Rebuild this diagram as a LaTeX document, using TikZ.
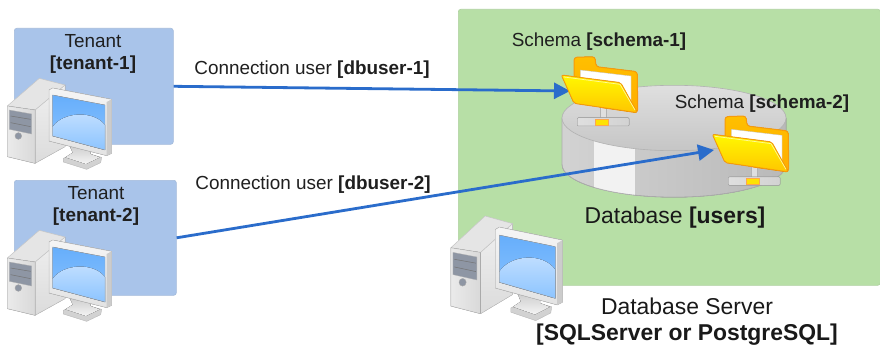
\documentclass[tikz,border=0pt]{standalone}
\usepackage{fontspec}
\setmainfont{Liberation Sans}
\usetikzlibrary{arrows.meta,shapes.geometric}
\definecolor{greenbg}{HTML}{B7DFA6}
\definecolor{bluebg}{HTML}{A9C4EA}
\definecolor{linkblue}{HTML}{2A6CCB}
\definecolor{folderedge}{HTML}{F79A0C}
\definecolor{scrtop}{HTML}{66AEFB}
\definecolor{scrbot}{HTML}{8CC4FF}
\definecolor{scrhi}{HTML}{C4E0FF}
\definecolor{towerpanel}{HTML}{8E96A4}
\tikzset{
  panel/.style={draw=#1!85!gray,line width=.6pt,fill=#1,rounded corners=2.5pt,inner sep=0pt,anchor=north west},
  label/.style={inner sep=0pt,font=\fontsize{18.9}{21}\selectfont,text=black!88},
  labelbold/.style={inner sep=0pt,font=\fontsize{18.9}{21}\selectfont\bfseries,text=black!88},
  biglabel/.style={inner sep=0pt,font=\fontsize{22.9}{25}\selectfont,text=black!90},
  biglabelbold/.style={inner sep=0pt,font=\fontsize{22.9}{25}\selectfont\bfseries,text=black!90},
  link/.style={draw=linkblue,line width=2.8pt,-{Triangle[length=16pt,width=16pt]}},
  pc/.pic={
    \begin{scope}[scale=1/3,line join=round]
      \fill[top color=gray!12,bottom color=gray!28,draw=gray!45,line width=.5pt] (105,300)--(195,225)--(195,410)--(105,460)--cycle;
      \fill[fill=gray!20,draw=gray!45,line width=.5pt] (22,288)--(118,205)--(195,225)--(105,300)--cycle;
      \fill[left color=gray!16,right color=gray!30,draw=gray!50,line width=.5pt] (22,288)--(105,300)--(105,460)--(22,440)--cycle;
      \fill[fill=towerpanel,draw=gray!60,line width=.3pt] (28,300)--(95,312)--(95,372)--(28,358)--cycle;
      \draw[gray!90!black,line width=.5pt] (32,318)--(92,328) (32,338)--(92,350);
      \fill[towerpanel,draw=gray!70] (55,378) circle (10);
      \fill[gray!35,draw=gray!55,line width=.4pt] (190,445)--(238,425)--(305,442)--(302,458)--(260,478)--(190,456)--cycle;
      \fill[top color=gray!40,bottom color=gray!8] (208,405)--(272,420)--(272,432)--(300,442)--(258,462)--(196,442)--(218,428)--cycle;
      \fill[top color=gray!8,bottom color=gray!22,draw=gray!50,line width=.5pt] (147,240)--(158,234)--(335,268)--(335,430)--(320,437)--(147,393)--cycle;
      \fill[fill=gray!40] (320,276)--(335,268)--(335,430)--(320,437)--cycle;
      \begin{scope}
        \clip (158,255)--(315,285)--(315,420)--(158,378)--cycle;
        \fill[top color=scrtop,bottom color=scrbot] (158,255) rectangle (315,420);
        \fill[top color=scrhi,bottom color=scrbot] (158,350) .. controls (190,305) and (280,300) .. (315,345)--(315,420)--(158,378)--cycle;
      \end{scope}
      \draw[gray!70,line width=.4pt] (158,255)--(315,285)--(315,420)--(158,378)--cycle;
    \end{scope}
  },
  folderpic/.pic={
    \begin{scope}[scale=1/3,line join=round]
      \fill[gray!25,draw=gray!60,line width=.4pt] (300,262) rectangle (320,295);
      \fill[left color=gray!25,right color=gray!35,draw=gray!65,line width=.5pt,rounded corners=1pt] (232,293) rectangle (387,318);
      \fill[yellow!85!orange,draw=orange!70,line width=.3pt] (285,297) rectangle (325,316);
      \fill[top color=orange!50!yellow,bottom color=orange!65!yellow,draw=folderedge,line width=1pt,rounded corners=3pt]
        (222,190)--(222,112)--(285,110)--(288,140)--(412,155)--(413,278)--(300,262)--cycle;
      \fill[white,draw=gray!50,line width=.3pt] (241,150)--(393,168)--(393,250)--(241,230)--cycle;
      \fill[top color=yellow!95!orange,bottom color=orange!45!yellow,draw=folderedge,line width=.9pt,rounded corners=2pt]
        (184,165)--(362,188)--(412,278)--(222,250)--cycle;
      \draw[white!60!yellow,line width=.7pt] (192,171)--(360,193)--(405,270);
    \end{scope}
  }
}
\begin{document}
\begin{tikzpicture}[x=1pt,y=-1pt]
  \useasboundingbox (0,0) rectangle (880,345);
  \fill[white] (0,0) rectangle (880,345);
  \node[panel=greenbg,draw=greenbg!85!gray,minimum width=422pt,minimum height=276pt] (server) at (458,9) {};
  \node[panel=bluebg,minimum width=159pt,minimum height=116pt] (tenantA) at (14,28) {};
  \node[panel=bluebg,minimum width=162pt,minimum height=115pt] (tenantB) at (14,180) {};
  % database cylinder
  \fill[left color=gray!35,right color=gray!55,draw=gray!65,line width=.6pt]
    (562,118) -- (562,164.5) arc[start angle=180,end angle=360,x radius=112pt,y radius=32.7pt] -- (786,118) -- cycle;
  \begin{scope}
    \clip (562,118) -- (562,164.5) arc[start angle=180,end angle=360,x radius=112pt,y radius=32.7pt] -- (786,118) -- cycle;
    \fill[gray!10] (594,118) rectangle (635,200);
  \end{scope}
  \draw[gray!65,line width=.6pt] (562,164.5) arc[start angle=180,end angle=360,x radius=112pt,y radius=32.7pt];
  \node[draw=gray!60,line width=.6pt,shape=ellipse,minimum width=224pt,minimum height=65.4pt,inner sep=0pt,top color=gray!25,bottom color=gray!45] (db) at (674,118) {};
  % computers
  \pic at (0,10) {pc};
  \pic at (0,162) {pc};
  \pic[xscale=1.07,yscale=1.15] at (443,137.4) {pc};
  % connectors
  \coordinate (schemaAin) at (570,91);
  \coordinate (schemaBin) at (714,150);
  \draw[link] (tenantA.east) -- (schemaAin);
  \draw[link] (tenantB.east) -- (schemaBin);
  % folders
  \pic at (500,20) {folderpic};
  \pic at (651,79.3) {folderpic};
  % labels
  \node[label] (tenantAt) at (93,41) {Tenant};
  \node[labelbold] (tenantAn) at (93,64.5) {[tenant-1]};
  \node[label] (tenantBt) at (96,193) {Tenant};
  \node[labelbold] (tenantBn) at (96,216.5) {[tenant-2]};
  \node[label] (connA) at (312,69.5) {Connection user \textbf{[dbuser-1]}};
  \node[label] (connB) at (313,184.5) {Connection user \textbf{[dbuser-2]}};
  \node[label] (schemaA) at (599,41.5) {Schema \textbf{[schema-1]}};
  \node[label] (schemaB) at (762,103.5) {Schema \textbf{[schema-2]}};
  \node[biglabel] (dbl) at (675,218) {Database \textbf{[users]}};
  \node[biglabel] (srvA) at (687,306) {Database Server};
  \node[biglabelbold] (srvB) at (687,335) {[SQLServer or PostgreSQL]};
\end{tikzpicture}
\end{document}
